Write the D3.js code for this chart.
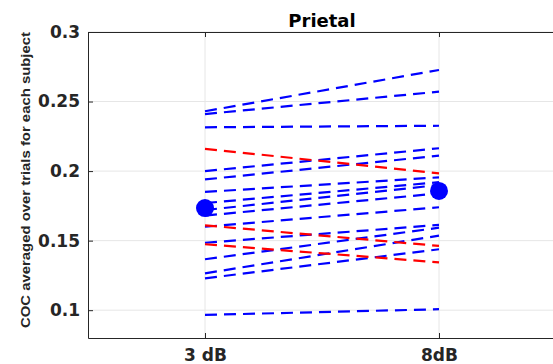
<!DOCTYPE html>
<html>
<head>
<meta charset="utf-8">
<script src="https://cdn.jsdelivr.net/npm/d3@7"></script>
<style>
  body { margin: 0; background: #fff; }
  text { font-family: "DejaVu Sans", "Liberation Sans", Arial, sans-serif; }
</style>
</head>
<body>
<script>
// conditions on the x axis
var conditions = ["3 dB", "8dB"];

// y tick values
var yTicks = [0.1, 0.15, 0.2, 0.25, 0.3];

// per-subject values, blue lines (3 dB, 8dB)
var blueAt3 = [0.243, 0.241, 0.2315, 0.200, 0.194, 0.185, 0.177, 0.172, 0.168, 0.160, 0.1485, 0.1366, 0.1265, 0.1229, 0.0966];
var blueAt8 = [0.2727, 0.2571, 0.2326, 0.2164, 0.2111, 0.1955, 0.192, 0.190, 0.184, 0.174, 0.1613, 0.1593, 0.1536, 0.1438, 0.1007];

// per-subject values, red lines
var redAt3 = [0.216, 0.161, 0.1474];
var redAt8 = [0.1984, 0.1462, 0.1344];

// group means (big markers)
var means = [0.1734, 0.1857];

window.onload = function(){

    var w = 553,
        h = 364;

    var svg = d3.select("body")
        .append("svg")
        .attr("width", w)
        .attr("height", h);

    // scales
    var x = d3.scaleLinear()
        .domain([0.5, 2.5])
        .range([88, 556]);

    var y = d3.scaleLinear()
        .domain([0.08, 0.3])
        .range([338, 32]);

    // grid
    svg.append("g").selectAll("line.gy")
        .data(yTicks)
        .enter()
        .append("line")
        .attr("x1", x(0.5)).attr("x2", x(2.5))
        .attr("y1", function(d){ return y(d); })
        .attr("y2", function(d){ return y(d); })
        .style("stroke", "#e6e6e6")
        .style("stroke-width", 1);

    svg.append("g").selectAll("line.gx")
        .data(conditions)
        .enter()
        .append("line")
        .attr("x1", function(d, i){ return x(i + 1); })
        .attr("x2", function(d, i){ return x(i + 1); })
        .attr("y1", y(0.3)).attr("y2", y(0.08))
        .style("stroke", "#e6e6e6")
        .style("stroke-width", 1);

    // subject lines
    var lines = [];
    blueAt3.forEach(function(v, i){
        lines.push({a: v, b: blueAt8[i], c: "#0000ff"});
    });
    redAt3.forEach(function(v, i){
        lines.push({a: v, b: redAt8[i], c: "#ff0000"});
    });

    svg.append("g").selectAll("line.subj")
        .data(lines)
        .enter()
        .append("line")
        .attr("class", "subj")
        .attr("x1", x(1))
        .attr("x2", x(2))
        .attr("y1", function(d){ return y(d.a); })
        .attr("y2", function(d){ return y(d.b); })
        .style("stroke", function(d){ return d.c; })
        .style("stroke-width", 2.2)
        .style("stroke-dasharray", "12,7");

    // mean markers
    svg.append("g").selectAll("circle")
        .data(means)
        .enter()
        .append("circle")
        .attr("cx", function(d, i){ return x(i + 1); })
        .attr("cy", function(d){ return y(d); })
        .attr("r", 9)
        .style("fill", "#0000ff");

    // axes box
    var axisCol = "#262626";
    var yAxis = d3.axisLeft(y)
        .tickValues(yTicks)
        .tickFormat(d3.format("~g"))
        .tickSizeInner(-5)
        .tickSizeOuter(0)
        .tickPadding(8);

    var gy = svg.append("g")
        .attr("transform", "translate(" + x(0.5) + ",0)")
        .call(yAxis);

    var xAxis = d3.axisBottom(x)
        .tickValues([1, 2])
        .tickFormat(function(d){ return conditions[d - 1]; })
        .tickSizeInner(-5)
        .tickSizeOuter(0)
        .tickPadding(11);

    var gx = svg.append("g")
        .attr("transform", "translate(0," + y(0.08) + ")")
        .call(xAxis);

    var xTop = d3.axisTop(x)
        .tickValues([1, 2])
        .tickFormat("")
        .tickSizeInner(-5)
        .tickSizeOuter(0);

    var gt = svg.append("g")
        .attr("transform", "translate(0," + y(0.3) + ")")
        .call(xTop);

    [gx, gy, gt].forEach(function(g){
        g.selectAll("path, line").style("stroke", axisCol);
        g.selectAll("text")
            .style("fill", "#262626")
            .style("font-size", "17px")
            .style("font-weight", "bold");
    });

    // title
    svg.append("text")
        .attr("x", (x(0.5) + x(2.5)) / 2)
        .attr("y", 27)
        .attr("text-anchor", "middle")
        .style("font-size", "18px")
        .style("font-weight", "bold")
        .text("Prietal");

    // y label
    svg.append("text")
        .attr("transform", "translate(30,180) rotate(-90)")
        .attr("text-anchor", "middle")
        .attr("textLength", 296)
        .attr("lengthAdjust", "spacingAndGlyphs")
        .style("font-family", "'Liberation Sans', Arial, sans-serif")
        .style("font-size", "13px")
        .style("font-weight", "bold")
        .style("fill", "#262626")
        .text("COC averaged over trials for each subject");

};
</script>
</body>
</html>
